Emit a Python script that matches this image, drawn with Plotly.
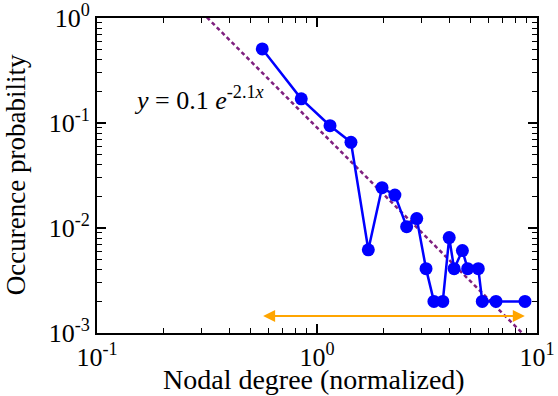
import plotly.graph_objects as go
import numpy as np

# Data
degree = [0.564, 0.848, 1.146, 1.427, 1.711, 1.975, 2.26, 2.556, 2.84, 3.13,
          3.40, 3.73, 3.99, 4.20, 4.58, 4.84, 5.41, 5.64, 6.51, 8.82]
prob = [0.507, 0.170, 0.0943, 0.0655, 0.0062, 0.0242, 0.0206, 0.0103, 0.0123, 0.0041,
        0.0020, 0.0020, 0.0081, 0.0041, 0.0061, 0.0041, 0.0041, 0.0020, 0.0020, 0.0020]

fit_x = [0.30, 9.0]
fit_y = [1.13, 0.0009]

arrow_x = [0.56, 8.8]
arrow_y = 0.00145

tick_vals_x = [0.1, 1, 10]
tick_text_x = ["10<sup>-1</sup>", "10<sup>0</sup>", "10<sup>1</sup>"]
tick_vals_y = [0.001, 0.01, 0.1, 1]
tick_text_y = ["10<sup>-3</sup>", "10<sup>-2</sup>", "10<sup>-1</sup>", "10<sup>0</sup>"]

x_title = "Nodal degree (normalized)"
y_title = "Occurence probability"

FONT = "'Liberation Serif', 'Times New Roman', 'DejaVu Serif', serif"

fig = go.Figure()
fig.add_trace(go.Scatter(x=fit_x, y=fit_y, mode="lines",
                         line=dict(color="#7f1f7f", width=2.5, dash="4px,3px"),
                         showlegend=False))
fig.add_trace(go.Scatter(x=degree, y=prob, mode="lines+markers",
                         line=dict(color="#0000ff", width=2.5),
                         marker=dict(color="#0000ff", size=13),
                         showlegend=False, cliponaxis=False))

fig.add_annotation(x=np.log10(arrow_x[1]), y=np.log10(arrow_y),
                   ax=np.log10(arrow_x[0]), ay=np.log10(arrow_y),
                   xref="x", yref="y", axref="x", ayref="y",
                   text="", showarrow=True, arrowhead=2, startarrowhead=2,
                   arrowside="end+start", arrowsize=1.2, startarrowsize=1.2,
                   arrowwidth=2, arrowcolor="#ffa500")

fig.add_annotation(x=0.08, y=0.745, xref="paper", yref="paper",
                   text="<i>y</i> = 0.1 <i>e</i><sup>-2.1<i>x</i></sup>",
                   showarrow=False, xanchor="left", yanchor="middle",
                   font=dict(family=FONT, size=26, color="black"))

# axis titles placed as annotations
fig.add_annotation(x=0.493, y=-0.148, xref="paper", yref="paper", text=x_title,
                   showarrow=False, xanchor="center", yanchor="middle",
                   font=dict(family=FONT, size=28, color="black"))
fig.add_annotation(x=-0.185, y=0.503, xref="paper", yref="paper", text=y_title,
                   showarrow=False, xanchor="center", yanchor="middle", textangle=-90,
                   font=dict(family=FONT, size=27, color="black"))

axis_common = dict(type="log", showgrid=False, zeroline=False, automargin=False,
                   showline=True, linecolor="black", linewidth=2,
                   mirror="allticks", ticks="inside", ticklen=9, tickwidth=1.5,
                   tickcolor="black", ticklabeloverflow="allow",
                   minor=dict(ticks="inside", ticklen=5, tickwidth=1, tickcolor="black", dtick="D1"),
                   tickfont=dict(family=FONT, size=26, color="black"))

fig.update_xaxes(**axis_common, range=[-1, 1], tickvals=tick_vals_x, ticktext=tick_text_x)
fig.update_yaxes(**axis_common, range=[-3, 0], tickvals=tick_vals_y, ticktext=tick_text_y)

fig.update_layout(width=558, height=396, margin=dict(l=97, r=21, t=18, b=63),
                  plot_bgcolor="white", paper_bgcolor="white",
                  font=dict(family=FONT, color="black"))

fig.write_html("out.html", config={"displayModeBar": False},
               post_script="document.body.style.margin='0';")
